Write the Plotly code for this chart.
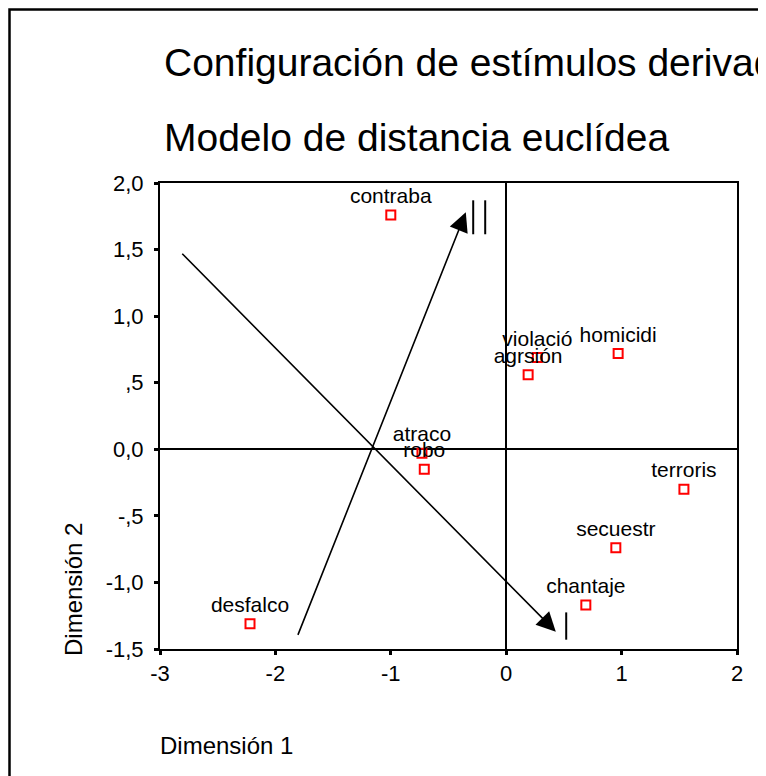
import plotly.graph_objects as go

# estimulos (configuracion MDS, modelo euclideo)
labels = ["contraba", "violació", "homicidi", "agrsión", "atraco", "robo",
          "terroris", "secuestr", "chantaje", "desfalco"]
dim1 = [-1.00, 0.27, 0.97, 0.19, -0.73, -0.71, 1.54, 0.95, 0.69, -2.22]
dim2 = [1.76, 0.69, 0.72, 0.56, -0.03, -0.15, -0.30, -0.74, -1.17, -1.31]

x_ticks = [-3, -2, -1, 0, 1, 2]
x_ticktext = ["-3", "-2", "-1", "0", "1", "2"]
y_ticks = [2.0, 1.5, 1.0, 0.5, 0.0, -0.5, -1.0, -1.5]
y_ticktext = ["2,0", "1,5", "1,0", ",5", "0,0", "-,5", "-1,0", "-1,5"]

# flechas dibujadas a mano sobre el grafico (inicio -> punta)
arrow_start = [(-2.82, 1.48), (-1.81, -1.405)]
arrow_end = [(0.43, -1.37), (-0.35, 1.78)]
# marcas "I" / "II" junto a las puntas
bar_x = [-0.286, -0.182, 0.52]
bar_y0 = [1.615, 1.615, -1.43]
bar_y1 = [1.87, 1.87, -1.225]

FONT = "Arial, Liberation Sans, sans-serif"

# area de trazado deseada en la pagina (px); la pagina tiene 8px de margen
PL, PT, PW, PH = 160, 183, 577, 466


def px(x):
    return (x - PL) / PW


def py(y):
    return (PT + PH - y) / PH


fig = go.Figure()
fig.add_trace(go.Scatter(
    x=dim1, y=dim2, mode="markers+text", text=labels,
    textposition="top center",
    textfont=dict(family=FONT, size=21, color="black"),
    marker=dict(symbol="square-open", size=9, color="red",
                line=dict(width=2, color="red")),
    cliponaxis=False, showlegend=False, hoverinfo="skip"))

for (x0, y0), (x1, y1) in zip(arrow_start, arrow_end):
    fig.add_annotation(x=x1, y=y1, ax=x0, ay=y0, xref="x", yref="y",
                       axref="x", ayref="y", showarrow=True, arrowhead=2,
                       arrowsize=2.4, arrowwidth=1.6, arrowcolor="black", text="")

for bx, b0, b1 in zip(bar_x, bar_y0, bar_y1):
    fig.add_shape(type="line", x0=bx, x1=bx, y0=b0, y1=b1, xref="x", yref="y",
                  line=dict(color="black", width=2))

# marco exterior
fig.add_shape(type="rect", xref="paper", yref="paper",
              x0=px(9.5), x1=2.0, y0=-1.0, y1=py(9.5),
              line=dict(color="black", width=2.5))

fig.add_annotation(text="Configuración de estímulos derivada", xref="paper", yref="paper",
                   x=px(162), y=py(63), xanchor="left", yanchor="middle",
                   showarrow=False, font=dict(family=FONT, size=39, color="black"))
fig.add_annotation(text="Modelo de distancia euclídea", xref="paper", yref="paper",
                   x=px(162), y=py(138), xanchor="left", yanchor="middle",
                   showarrow=False, font=dict(family=FONT, size=39, color="black"))
fig.add_annotation(text="Dimensión 1", xref="paper", yref="paper",
                   x=px(158), y=py(745), xanchor="left", yanchor="middle",
                   showarrow=False, font=dict(family=FONT, size=24, color="black"))
fig.add_annotation(text="Dimensión 2", xref="paper", yref="paper", textangle=-90,
                   x=px(73), y=py(590), xanchor="center", yanchor="middle",
                   showarrow=False, font=dict(family=FONT, size=24, color="black"))

axis_common = dict(showgrid=False, showline=True, linecolor="black", linewidth=2,
                   mirror=True, ticks="outside", ticklen=4, tickwidth=3, tickcolor="black",
                   zeroline=True, zerolinecolor="black", zerolinewidth=1.5,
                   tickfont=dict(family=FONT, size=22, color="black"))
fig.update_xaxes(range=[-3, 2], tickvals=x_ticks, ticktext=x_ticktext, **axis_common)
fig.update_yaxes(range=[-1.5, 2.0], tickvals=y_ticks, ticktext=y_ticktext,
                 ticklabelstandoff=6, **axis_common)

fig.update_layout(width=766, height=776,
                  margin=dict(l=PL - 8, r=766 - (PL - 8) - PW, t=PT - 8, b=776 - (PT - 8) - PH),
                  plot_bgcolor="white", paper_bgcolor="white",
                  font=dict(family=FONT, color="black"))

fig.write_html("out.html")
